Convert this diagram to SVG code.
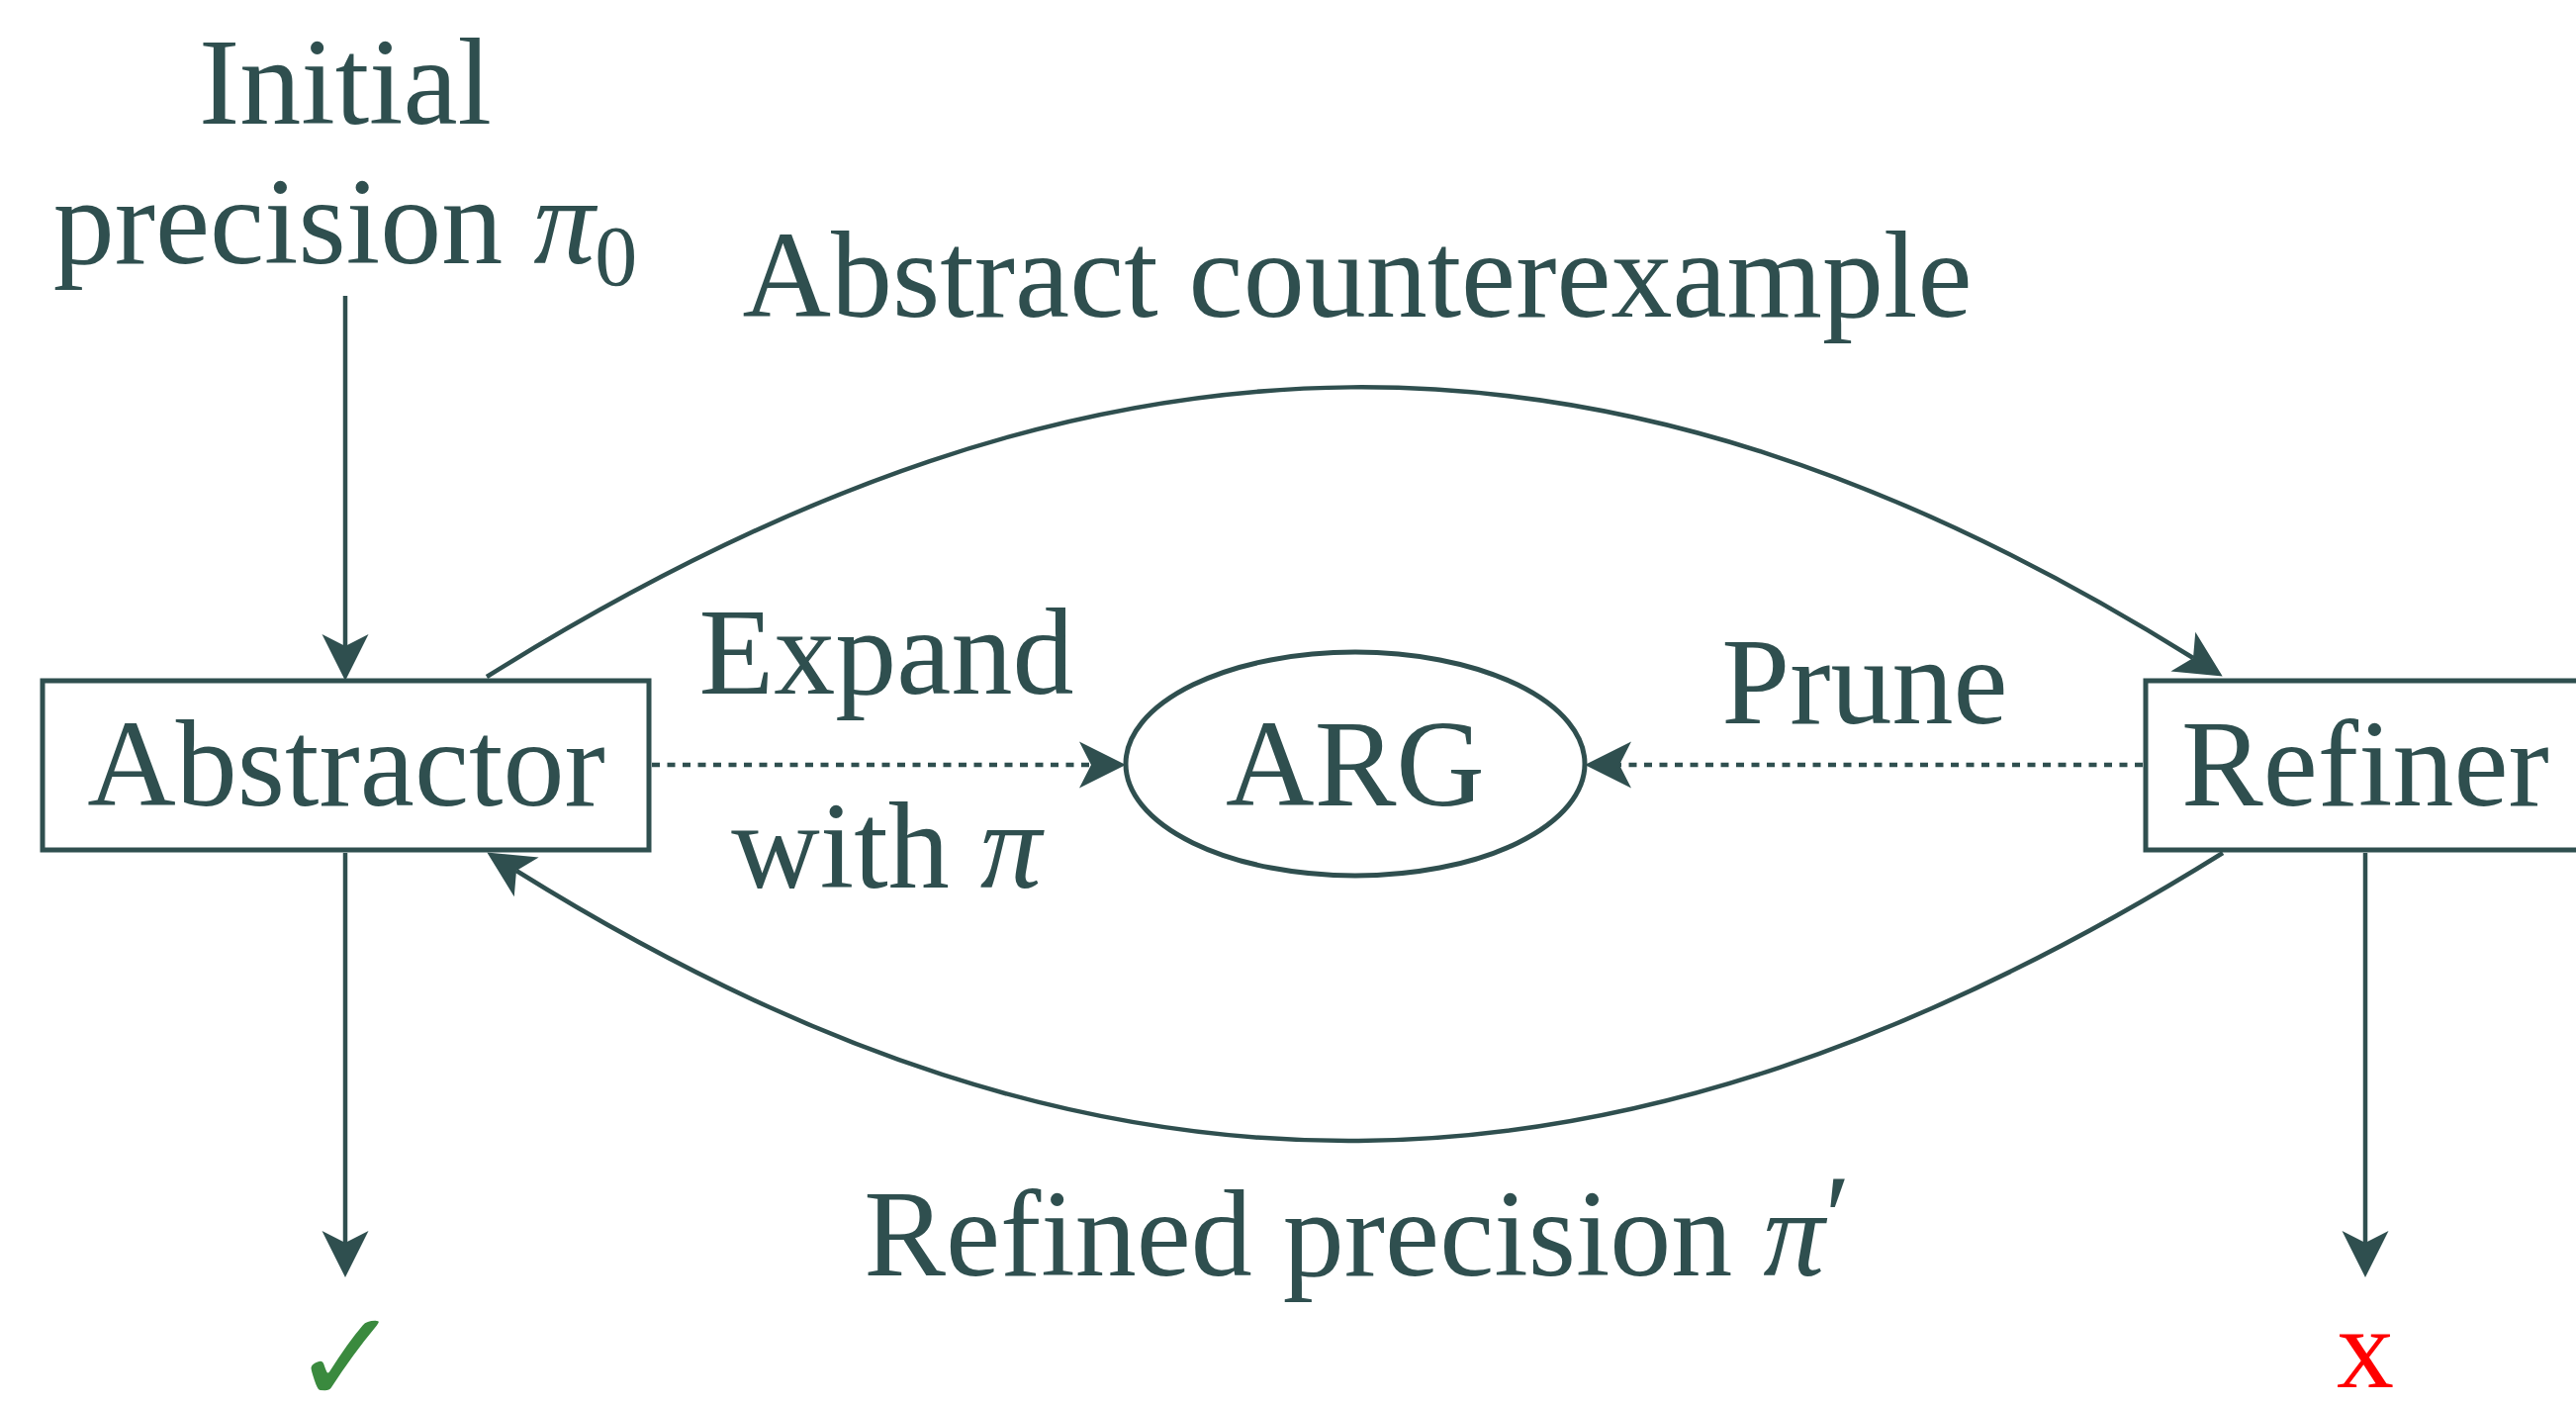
<svg xmlns="http://www.w3.org/2000/svg" width="2604" height="1421" viewBox="0 0 2604 1421">
<style>
.t{font-family:"Liberation Serif","Times New Roman",serif;font-size:124px;fill:#2F4F4F;text-anchor:middle}
.ln{fill:none;stroke:#2F4F4F;stroke-width:4.5}
.dot{fill:none;stroke:#2F4F4F;stroke-width:4.5;stroke-dasharray:8 7.5}
.box{fill:#fff;stroke:#2F4F4F;stroke-width:5}
</style>
<defs>
<marker id="ah" markerUnits="userSpaceOnUse" markerWidth="60" markerHeight="60" viewBox="-15 -30 60 60" refX="0" refY="0" orient="auto">
<path d="M35,0 L-12,-23.5 L0,0 L-12,23.5 Z" fill="#2F4F4F"/>
</marker>
</defs>
<rect width="2604" height="1421" fill="#fff"/>
<g id="connectors">
<path class="ln" d="M349,299 L349,653" marker-end="url(#ah)"/>
<path class="ln" d="M349,862 L349,1256" marker-end="url(#ah)"/>
<path class="ln" d="M2391,862 L2391,1256" marker-end="url(#ah)"/>
<path class="ln" d="M492,684 C1111,297 1628,297 2217,665" marker-end="url(#ah)"/>
<path class="ln" d="M2247,862 C1628,1247 1111,1247 522,880" marker-end="url(#ah)"/>
<path class="dot" d="M659,773 L1103,773" marker-end="url(#ah)"/>
<path class="dot" d="M2166,773 L1637,773" marker-end="url(#ah)"/>
</g>
<g id="abstractor">
<rect class="box" x="43" y="688" width="613" height="171"/>
<text class="t" x="350" y="814">Abstractor</text>
</g>
<g id="arg">
<ellipse class="box" cx="1370" cy="772" rx="232" ry="113"/>
<text class="t" x="1370" y="814">ARG</text>
</g>
<g id="refiner">
<rect class="box" x="2169" y="688" width="460" height="171"/>
<text class="t" x="2391" y="814">Refiner</text>
</g>
<g id="labels">
<text class="t" x="349" y="125">Initial</text>
<text class="t" x="349" y="266">precision <tspan font-style="italic">π</tspan><tspan font-size="86" dy="22">0</tspan></text>
<text class="t" x="1372" y="320">Abstract counterexample</text>
<text class="t" x="896" y="701">Expand</text>
<text class="t" x="896" y="897">with <tspan font-style="italic">π</tspan></text>
<text class="t" x="1885" y="731">Prune</text>
<text class="t" x="1372" y="1289">Refined precision <tspan font-style="italic">π</tspan><tspan font-size="120" dy="-18">′</tspan></text>
<text x="350" y="1418" style="font-family:'DejaVu Sans',sans-serif;font-size:132px;fill:#3A8A3E;text-anchor:middle">✓</text>
<text x="2391" y="1402" style="font-family:'Liberation Serif',serif;font-size:116px;fill:#FF0000;text-anchor:middle">x</text>
</g>
</svg>
